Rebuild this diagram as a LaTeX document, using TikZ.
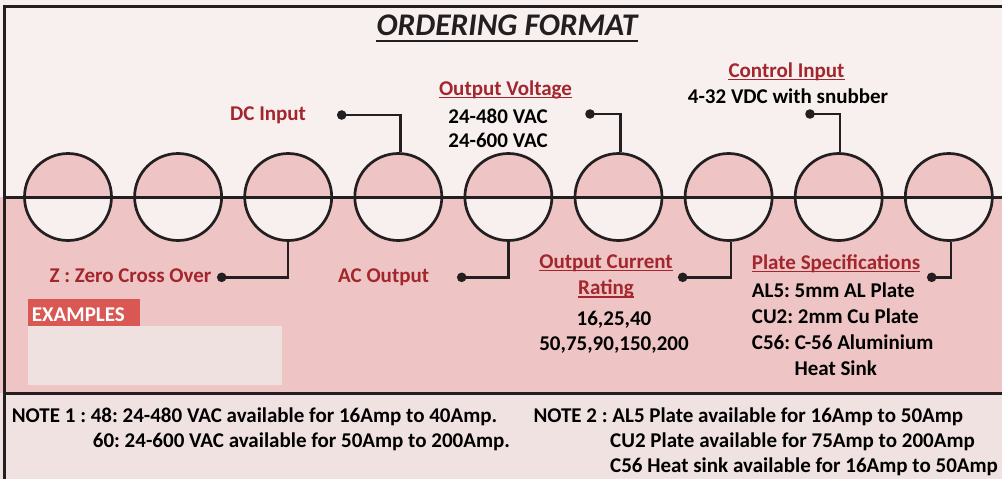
\documentclass[tikz,border=0pt]{standalone}
\usepackage{fontspec}
\setmainfont{Carlito}
\frenchspacing
\definecolor{topbg}{RGB}{248,240,239}
\definecolor{midbg}{RGB}{238,197,196}
\definecolor{botbg}{RGB}{240,226,225}
\definecolor{exred}{RGB}{217,88,84}
\definecolor{exlight}{RGB}{239,225,224}
\definecolor{labred}{RGB}{163,38,46}
\definecolor{ink}{RGB}{35,31,32}
\tikzset{
  border/.style={draw=ink, line width=3pt},
  conn/.style={draw=ink, line width=2.5pt},
  slot/.style={circle, draw=ink, line width=2.7pt, minimum size=87pt, inner sep=0pt},
  lbl/.style={font=\fontsize{21}{26}\selectfont\bfseries, inner sep=0pt, text=black},
  redlbl/.style={lbl, text=labred},
  ul/.style={draw=labred, line width=1.3pt},
  note/.style={font=\fontsize{21}{25}\selectfont\bfseries, inner sep=0pt, text=black, anchor=base west},
}
\newcommand{\rr}{43.5pt}
\begin{document}
\begin{tikzpicture}[x=1pt,y=-1pt]
\useasboundingbox (0,0) rectangle (1002,479);
% backgrounds
\fill[topbg] (0,0) rectangle (1002,197);
\fill[midbg] (0,197) rectangle (1002,393);
\fill[botbg] (0,393) rectangle (1002,479);
% circle fills (inverted halves)
\foreach \i in {1,...,9}{
  \pgfmathsetmacro{\cx}{68+110.1*(\i-1)}
  \begin{scope}
    \clip (\cx-50,140) rectangle (\cx+50,197);
    \fill[midbg] (\cx,197) circle (\rr);
  \end{scope}
  \begin{scope}
    \clip (\cx-50,197) rectangle (\cx+50,260);
    \fill[topbg] (\cx,197) circle (\rr);
  \end{scope}
}
% borders and dividers
\draw[border] (4.5,479) -- (4.5,6) -- (1002,6);
\draw[border] (4.5,197) -- (1002,197);
\draw[border] (4.5,393) -- (1002,393);
% circles
\foreach \i in {1,...,9}{
  \pgfmathsetmacro{\cx}{68+110.1*(\i-1)}
  \node[slot] (c\i) at (\cx,197) {};
}
% title
\node[font=\fontsize{31.5}{36}\selectfont\bfseries\itshape, inner sep=0pt, anchor=base, text=ink] (title) at (507,35.5) {ORDERING FORMAT};
\draw[draw=ink, line width=2pt] ([yshift=-5pt]title.base west) -- ([yshift=-5pt]title.base east);
% top labels
\node[redlbl, anchor=base west] (dcin) at (230,120) {DC Input};
\coordinate (ddc) at (341.7,115);
\fill[ink] (ddc) circle (4.8pt);
\draw[conn] (ddc) -| ([xshift=2pt]c4.north);

\node[redlbl, anchor=base] (ov) at (505.5,95) {Output Voltage};
\draw[ul] ([yshift=-2.5pt]ov.base west) -- ([yshift=-2.5pt]ov.base east);
\node[lbl, anchor=base] (v1) at (498,123) {24-480 VAC};
\node[lbl, anchor=base] (v2) at (498,147) {24-600 VAC};
\coordinate (dov) at (590,114);
\fill[ink] (dov) circle (4.8pt);
\draw[conn] (dov) -| ([xshift=2pt]c6.north);

\node[redlbl, anchor=base] (ci) at (786.5,77) {Control Input};
\draw[ul] ([yshift=-2.5pt]ci.base west) -- ([yshift=-2.5pt]ci.base east);
\node[lbl, anchor=base] (snub) at (788,103) {4-32 VDC with snubber};
\coordinate (dci) at (810,114);
\fill[ink] (dci) circle (4.8pt);
\draw[conn] (dci) -| ([xshift=1.5pt]c8.north);

% bottom labels
\node[redlbl, anchor=base west] (zc) at (49.3,282) {Z : Zero Cross Over};
\coordinate (dzc) at (221.7,277.3);
\fill[ink] (dzc) circle (4.8pt);
\draw[conn] (dzc) -| (c3.south);

\node[redlbl, anchor=base west] (aco) at (338,282) {AC Output};
\coordinate (dac) at (461.7,277.3);
\fill[ink] (dac) circle (4.8pt);
\draw[conn] (dac) -| (c5.south);

\node[redlbl, anchor=base] (ocr1) at (606,268) {Output Current};
\draw[ul] ([yshift=-2.5pt]ocr1.base west) -- ([yshift=-2.5pt]ocr1.base east);
\node[redlbl, anchor=base] (ocr2) at (606,294.5) {Rating};
\draw[ul] ([yshift=-2.5pt]ocr2.base west) -- ([yshift=-2.5pt]ocr2.base east);
\node[lbl, anchor=base] (cur1) at (614,325) {16,25,40};
\node[lbl, anchor=base] (cur2) at (614,350.5) {50,75,90,150,200};
\coordinate (doc) at (682.7,277.3);
\fill[ink] (doc) circle (4.8pt);
\draw[conn] (doc) -| ([xshift=2.5pt]c7.south);

\node[redlbl, anchor=base west] (ps) at (751.7,269) {Plate Specifications};
\draw[ul] ([yshift=-2.5pt]ps.base west) -- ([yshift=-2.5pt]ps.base east);
\node[lbl, anchor=base west] (p1) at (751.7,297) {AL5: 5mm AL Plate};
\node[lbl, anchor=base west] (p2) at (751.7,323) {CU2: 2mm Cu Plate};
\node[lbl, anchor=base west] (p3) at (751.7,349) {C56: C-56 Aluminium};
\node[lbl, anchor=base west] (p4) at (794.3,375) {Heat Sink};
\coordinate (dps) at (931.7,277.3);
\fill[ink] (dps) circle (4.8pt);
\draw[conn] (dps) -| ([xshift=2pt]c9.south);

% examples
\node[fill=exred, anchor=north west, minimum width=112pt, minimum height=27pt, inner sep=0pt] (exbox) at (28,299) {};
\node[lbl, text=white, anchor=base west] (extext) at (31.7,321.7) {EXAMPLES};
\node[fill=exlight, anchor=north west, minimum width=254pt, minimum height=59pt, inner sep=0pt] (exarea) at (28,326) {};

% notes
\node[note] (n1a) at (11.7,422) {NOTE 1 : 48: 24-480 VAC available for 16Amp to 40Amp.};
\node[note] (n1b) at (92.7,447) {60: 24-600 VAC available for 50Amp to 200Amp.};
\node[note] (n2a) at (533.3,422) {NOTE 2 : AL5 Plate available for 16Amp to 50Amp};
\node[note] (n2b) at (610,447) {CU2 Plate available for 75Amp to 200Amp};
\node[note] (n2c) at (610,472) {C56 Heat sink available for 16Amp to 50Amp};
\end{tikzpicture}
\end{document}
